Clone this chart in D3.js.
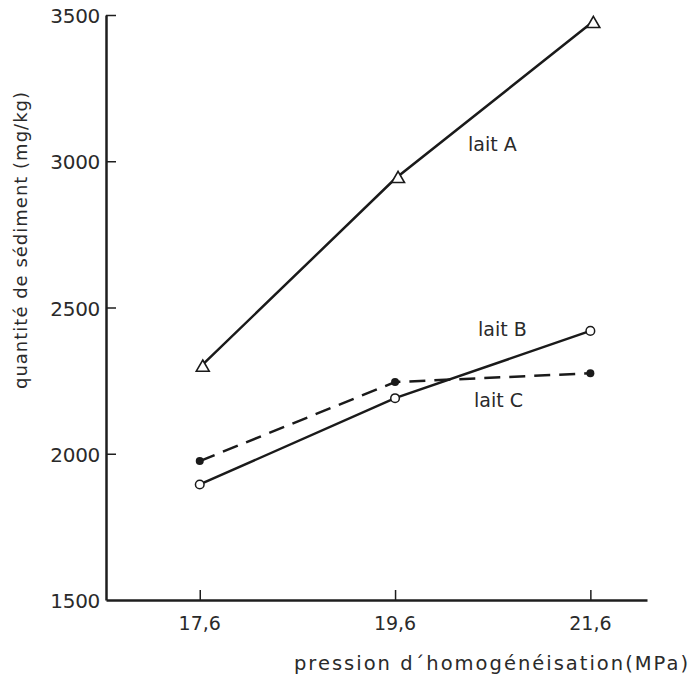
<!DOCTYPE html>
<html>
<head>
<meta charset="utf-8">
<script src="https://cdn.jsdelivr.net/npm/d3@7"></script>
<style>
  body { margin: 0; background: #fff; }
  text { font-family: "DejaVu Sans", sans-serif; fill: #2a2a2a; }
</style>
</head>
<body>
<div id="chart"></div>
<script>
// pressure values (MPa) and tick labels
var pressures = [17.6, 19.6, 21.6];
var xTickLabels = ["17,6", "19,6", "21,6"];
var yTicks = [1500, 2000, 2500, 3000, 3500];

// sediment (mg/kg) per milk
var laitA = [2295, 2940, 3470];
var laitB = [1895, 2190, 2420];
var laitC = [1975, 2245, 2275];

var svgWidth = 691;
var svgHeight = 679;

var svg = d3.select("#chart")
  .append("svg")
  .attr("width", svgWidth)
  .attr("height", svgHeight);

// scales
var xScale = d3.scaleLinear()
  .domain([16.64, 22.18])
  .range([106, 647]);
var yScale = d3.scaleLinear()
  .domain([1500, 3500])
  .range([600, 15]);

// axes with inward ticks
var axisColor = "#1e1e1e";
var xAxis = d3.axisTop(xScale).tickValues(pressures).tickSize(10).tickSizeOuter(0).tickFormat("");
var yAxis = d3.axisRight(yScale).tickValues(yTicks).tickSize(10).tickSizeOuter(0).tickFormat("");

var gx = svg.append("g")
  .attr("transform", "translate(0,600)")
  .call(xAxis);
gx.select(".domain").attr("stroke", axisColor).attr("stroke-width", 2.5);
gx.selectAll(".tick line").attr("stroke", axisColor).attr("stroke-width", 1.5);

var gy = svg.append("g")
  .attr("transform", "translate(106,0)")
  .call(yAxis);
gy.select(".domain").attr("stroke", axisColor).attr("stroke-width", 2.5);
gy.selectAll(".tick line").attr("stroke", axisColor).attr("stroke-width", 1.5);
// the 1500 tick sits on the x axis
gy.selectAll(".tick").filter(d => d === 1500).select("line").remove();

// tick labels
svg.selectAll(".xlab")
  .data(pressures)
  .enter()
  .append("text")
  .attr("x", d => xScale(d))
  .attr("y", 630)
  .attr("text-anchor", "middle")
  .attr("font-size", 19)
  .text((d, i) => xTickLabels[i]);

svg.selectAll(".ylab")
  .data(yTicks)
  .enter()
  .append("text")
  .attr("x", 100)
  .attr("y", d => yScale(d) + 8)
  .attr("text-anchor", "end")
  .attr("font-size", 20)
  .attr("letter-spacing", -0.3)
  .text(d => d);

// axis titles
svg.append("text")
  .attr("transform", "translate(27,240) rotate(-90)")
  .attr("text-anchor", "middle")
  .attr("font-size", 18)
  .attr("letter-spacing", 1)
  .text("quantité de sédiment (mg/kg)");

svg.append("text")
  .attr("x", 690)
  .attr("y", 670)
  .attr("text-anchor", "end")
  .attr("font-size", 19.5)
  .attr("letter-spacing", 2)
  .text("pression d´homogénéisation(MPa)");

// lines
var line = d3.line()
  .x((d, i) => xScale(pressures[i]))
  .y(d => yScale(d));

var lineColor = "#1a1a1a";

svg.append("path")
  .datum(laitA)
  .attr("d", line)
  .attr("fill", "none")
  .attr("stroke", lineColor)
  .attr("stroke-width", 2.5);

svg.append("path")
  .datum(laitB)
  .attr("d", line)
  .attr("fill", "none")
  .attr("stroke", lineColor)
  .attr("stroke-width", 2.5);

svg.append("path")
  .datum(laitC)
  .attr("d", line)
  .attr("fill", "none")
  .attr("stroke", lineColor)
  .attr("stroke-width", 2.5)
  .attr("stroke-dasharray", "16,9");

// markers
var triangle = d3.symbol().type(d3.symbolTriangle).size(72);

svg.selectAll(".markA")
  .data(laitA)
  .enter()
  .append("path")
  .attr("d", triangle)
  .attr("transform", (d, i) => `translate(${xScale(pressures[i]) + 3}, ${yScale(d)})`)
  .attr("fill", "#fff")
  .attr("stroke", lineColor)
  .attr("stroke-width", 1.6);

svg.selectAll(".markB")
  .data(laitB)
  .enter()
  .append("circle")
  .attr("cx", (d, i) => xScale(pressures[i]))
  .attr("cy", d => yScale(d))
  .attr("r", 4.3)
  .attr("fill", "#fff")
  .attr("stroke", lineColor)
  .attr("stroke-width", 1.5);

svg.selectAll(".markC")
  .data(laitC)
  .enter()
  .append("circle")
  .attr("cx", (d, i) => xScale(pressures[i]))
  .attr("cy", d => yScale(d))
  .attr("r", 4)
  .attr("fill", lineColor);

// series labels
svg.append("text").attr("x", 468).attr("y", 151).attr("font-size", 19).text("lait A");
svg.append("text").attr("x", 478).attr("y", 336).attr("font-size", 19).text("lait B");
svg.append("text").attr("x", 474).attr("y", 407).attr("font-size", 19).text("lait C");
</script>
</body>
</html>
